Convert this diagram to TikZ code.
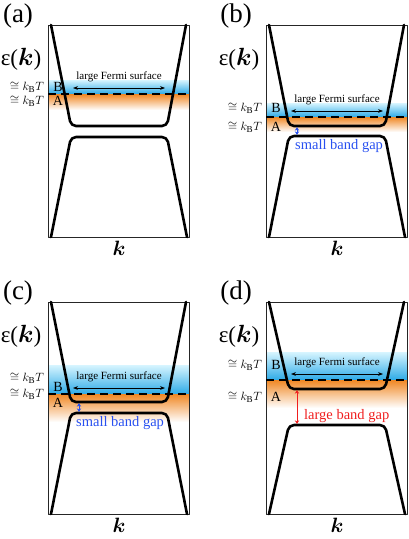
\documentclass[tikz,border=0pt]{standalone}
\usepackage{bm}
\usepackage{fontspec}
\setmainfont{Liberation Serif}
\usetikzlibrary{arrows.meta}

\definecolor{paleband}{RGB}{215,245,255}
\definecolor{skyband}{RGB}{45,170,230}
\definecolor{orangeband}{RGB}{240,135,35}
\definecolor{gapblue}{RGB}{40,80,240}
\definecolor{gapred}{RGB}{240,30,30}

\tikzset{
  frame/.style={line width=0.9pt, black!85},
  band/.style={line width=2.6pt, rounded corners=5pt, line cap=round},
  fermi/.style={line width=2.4pt, dash pattern=on 8pt off 5pt},
  fsarrow/.style={<->, >={Stealth[length=5pt]}, line width=0.7pt, shorten <=1pt, shorten >=1pt},
  gaparrow/.style={<->, >={Stealth[length=3.5pt, width=4.5pt]}, line width=1pt, shorten <=1.2pt, shorten >=1.2pt},
  gaptext/.style={anchor=west, inner sep=0pt, font=\fontsize{14.5}{16}\selectfont},
  kTlabel/.style={anchor=east, inner sep=0pt, font=\fontsize{13}{14}\selectfont},
}

\newcommand{\kBT}{$\cong k_{\mathrm{B}}T$}

% #1 tag, #2 conduction bottom, #3 valence top, #4 Fermi level,
% #5 blue height, #6 orange height, #7 B offset, #8 A offset, #9 kT shift
\newcommand{\bandpanel}[9]{%
  % thermal windows
  \shade[top color=paleband, bottom color=skyband] (0,#4-#5) rectangle (141,#4);
  \shade[top color=orangeband, middle color=orangeband!75!white, bottom color=white]
    (0,#4) rectangle (141,#4+#6);
  \draw[frame] (0,0) rectangle (141,212);
  % Fermi level
  \draw[fermi] (0,#4) -- (141,#4);
  % bands
  \draw[band] (3,0) -- (23,#2) -- (119,#2) -- (138,0);
  \draw[band] (3,212) -- (23,#3) -- (119,#3) -- (139,212);
  \coordinate (cbot) at (31,#2);
  \coordinate (vtop) at (31,#3);
  % Fermi surface
  \coordinate (fsl) at (24,#4-6);
  \coordinate (fsr) at (118,#4-6);
  \draw[fsarrow] (fsl) -- (fsr);
  \node[font=\fontsize{11}{12}\selectfont] (fs) at (71,#4-17) {large Fermi surface};
  % labels
  \node[font=\fontsize{27}{30}\selectfont] (tag) at (-30,-9) {(#1)};
  \node[font=\fontsize{23}{26}\selectfont] (eps) at (-27,34) {ε($\bm{k}$)};
  \node[font=\fontsize{22}{24}\selectfont] (kax) at (71,223) {$\bm{k}$};
  \node[font=\fontsize{14}{16}\selectfont] (B) at (10,#4-#7) {B};
  \node[font=\fontsize{14}{16}\selectfont] (A) at (10,#4+#8) {A};
  \node[kTlabel] (kTb) at (-4,#4-#7+#9) {\kBT};
  \node[kTlabel] (kTa) at (-4,#4+#8+#9) {\kBT};
}

\begin{document}
\begin{tikzpicture}[x=1pt, y=-1pt, line join=round]
\useasboundingbox (0,0) rectangle (409,539);

% (a)
\begin{scope}[shift={(48,25)}]
  \bandpanel{a}{101}{112}{69}{14}{16}{7}{7}{0}
\end{scope}

% (b)
\begin{scope}[shift={(266,25)}]
  \bandpanel{b}{101}{111}{92}{14}{15}{9}{10}{0}
  \draw[gaparrow, gapblue] (cbot) -- (vtop);
  \node[gaptext, text=gapblue] (gap) at (29,121) {small band gap};
\end{scope}

% (c)
\begin{scope}[shift={(48,302)}]
  \bandpanel{c}{100}{111}{92}{29}{28}{7}{9}{-9}
  \draw[gaparrow, gapblue] (cbot) -- (vtop);
  \node[gaptext, text=gapblue] (gap) at (28,121) {small band gap};
\end{scope}

% (d)
\begin{scope}[shift={(266,302)}]
  \bandpanel{d}{87}{123}{78}{28}{28}{15}{17}{0}
  \draw[gaparrow, gapred] (cbot) -- (vtop);
  \node[gaptext, text=gapred] (gap) at (38,114) {large band gap};
\end{scope}

\end{tikzpicture}
\end{document}
